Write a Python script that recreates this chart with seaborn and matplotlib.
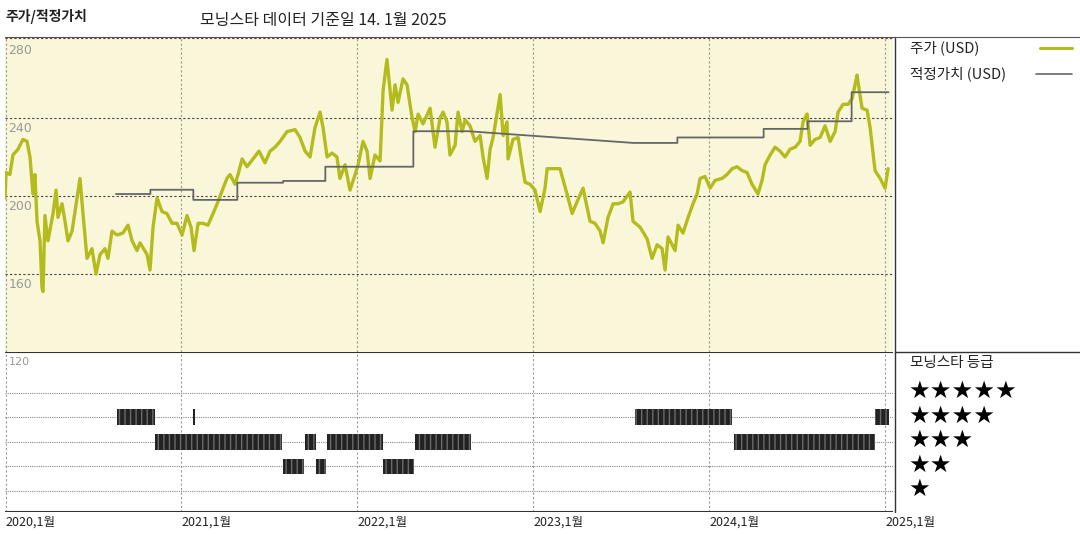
import matplotlib
matplotlib.use("Agg")
import matplotlib.pyplot as plt
import matplotlib.transforms as mtrans
import seaborn as sns
import pandas as pd

sns.set_style("white")
plt.rcParams['font.family'] = ['Noto Sans CJK KR', 'DejaVu Sans']

price_years = [0.0,0.006,0.028,0.045,0.074,0.102,0.125,0.142,0.159,0.170,0.182,0.199,0.210,0.216,0.227,0.244,0.273,0.290,0.301,0.324,0.341,0.358,0.381,0.409,0.426,0.443,0.466,0.494,0.517,0.540,0.568,0.585,0.608,0.636,0.670,0.699,0.722,0.750,0.767,0.807,0.824,0.841,0.864,0.892,0.920,0.949,0.977,1.006,1.034,1.057,1.074,1.097,1.125,1.153,1.182,1.210,1.239,1.261,1.278,1.307,1.324,1.347,1.375,1.409,1.443,1.477,1.506,1.534,1.563,1.602,1.648,1.676,1.705,1.733,1.761,1.790,1.807,1.830,1.858,1.886,1.903,1.932,1.960,1.989,2.006,2.034,2.057,2.074,2.102,2.131,2.148,2.170,2.188,2.199,2.216,2.233,2.261,2.284,2.313,2.330,2.347,2.375,2.415,2.443,2.472,2.489,2.511,2.528,2.557,2.574,2.597,2.614,2.642,2.670,2.699,2.716,2.739,2.756,2.773,2.795,2.813,2.830,2.852,2.858,2.886,2.915,2.938,2.955,2.983,3.011,3.040,3.068,3.080,3.114,3.153,3.193,3.222,3.250,3.284,3.324,3.352,3.381,3.398,3.426,3.455,3.483,3.511,3.551,3.568,3.608,3.648,3.676,3.705,3.733,3.750,3.767,3.807,3.824,3.852,3.881,3.909,3.932,3.949,3.977,4.006,4.034,4.074,4.102,4.131,4.159,4.188,4.216,4.244,4.278,4.301,4.318,4.347,4.375,4.403,4.432,4.460,4.489,4.517,4.534,4.557,4.574,4.602,4.631,4.659,4.688,4.716,4.733,4.761,4.790,4.813,4.841,4.847,4.869,4.898,4.915,4.943,4.972,5.000,5.017]
price_values = [199,212,211,221,224,229,228,220,201,211,187,177,153,151,190,177,191,203,189,196,187,177,182,199,209,191,168,173,160,170,173,168,182,180,181,185,177,172,176,170,162,184,199,192,191,186,186,180,190,184,172,186,186,185,191,197,204,209,211,206,211,219,215,219,223,217,223,225,228,233,234,230,223,220,235,243,235,220,222,220,209,216,203,211,216,228,223,209,221,218,254,270,254,244,257,248,260,257,240,233,242,237,245,225,240,243,238,221,226,243,233,239,236,228,231,220,209,224,230,242,252,231,238,219,229,230,216,207,206,203,192,204,214,214,214,201,191,197,204,187,186,182,176,189,196,196,197,202,187,184,178,168,175,173,162,179,172,185,181,189,196,201,209,210,204,208,209,211,214,215,213,212,206,201,208,216,221,225,223,220,224,225,228,238,242,226,229,230,236,228,233,243,247,247,250,262,258,245,244,235,213,209,204,214]

fair_years = [0.63,0.826,0.826,1.07,1.07,1.32,1.32,1.58,1.58,1.82,1.82,2.32,2.32,2.63,3.57,3.82,3.82,4.31,4.31,4.56,4.56,4.81,4.81,5.02]
fair_values = [201,201,203.2,203.2,198,198,206.8,206.8,207.7,207.7,215,215,233.2,233.2,227.2,227.2,230,230,234.4,234.4,238.3,238.3,253.2,253.2]

rating_stars = [4,4,4,4,3,3,3,3,3,2,2,2]
rating_start = [0.636,1.068,3.58,4.94,0.852,1.705,1.83,2.33,4.142,1.58,1.767,2.148]
rating_end = [0.852,1.080,4.13,5.02,1.574,1.767,2.148,2.648,4.943,1.70,1.824,2.324]

price_ticks = [160, 200, 240, 280]
year_labels = ["2020,1월", "2021,1월", "2022,1월", "2023,1월", "2024,1월", "2025,1월"]

W, H = 1080, 540
fig = plt.figure(figsize=(W/100, H/100), dpi=100)
L, R = 5/W, 893/W
ax = fig.add_axes([L, 1-352/H, R-L, (352-38)/H])
ax2 = fig.add_axes([L, 1-512/H, R-L, (512-352)/H])

ax.set_facecolor('#faf6da')
df_p = pd.DataFrame({'t': price_years, 'v': price_values})
df_f = pd.DataFrame({'t': fair_years, 'v': fair_values})
sns.lineplot(data=df_p, x='t', y='v', ax=ax, color='#b3bc1c', lw=2.4, estimator=None, sort=False)
sns.lineplot(data=df_f, x='t', y='v', ax=ax, color='#666666', lw=1.3, estimator=None, sort=False)
ax.set_xlim(0, 5.045)
ax.set_ylim(120, 281)
for a in (ax, ax2):
    a.set_xticks([])
    a.set_yticks([])
    a.set_xlabel('')
    a.set_ylabel('')
    for x in range(1, 6):
        a.axvline(x, color='#999999', lw=0.8, ls=(0, (2, 2)), zorder=0)
    a.axvline(0.005, color='#999999', lw=0.8, ls=(0, (2, 2)), zorder=0)
    for s in a.spines.values():
        s.set_visible(False)
for v in [160, 200, 240]:
    ax.axhline(v, color='#444444', lw=0.8, ls=(0, (2, 2)), zorder=0)
ax.axhline(281, color='#444444', lw=0.8, ls=(0, (2, 2)), zorder=0)
for v in price_ticks:
    ax.text(0.02, v - 2, str(v), color='#999999', fontsize=9, va='top', ha='left', family='DejaVu Sans')

ax2.set_xlim(0, 5.045)
ax2.set_ylim(0.143, 6.67)
for r in range(1, 6):
    ax2.axhline(r, color='#888888', lw=0.8, ls=(0, (1, 1)), zorder=0)
ax2.barh(rating_stars, [e - s for s, e in zip(rating_start, rating_end)], left=rating_start,
         height=0.65, color='#222222', edgecolor='#6a6a6a', hatch='|||', lw=0, zorder=2)
ax2.text(0.02, 6.45, '120', color='#999999', fontsize=8, va='top', ha='left', family='DejaVu Sans')
ax2.axhline(0.143, color='#333333', lw=1.5)
ax2.axhline(6.67, color='#333333', lw=0.8)

trans = mtrans.blended_transform_factory(ax2.transData, fig.transFigure)
for i, lab in enumerate(year_labels):
    ax2.text(i, 1-522/H, lab, transform=trans, fontsize=9, va='center', ha='left', color='#222222')

fig.add_artist(plt.Line2D([895/W, 895/W], [1-38/H, 1-512/H], color='#333333', lw=1))
fig.add_artist(plt.Line2D([5/W, 1], [1-37/H, 1-37/H], color='#555555', lw=0.8))
fig.add_artist(plt.Line2D([895/W, 1], [1-352/H, 1-352/H], color='#333333', lw=1))

fig.text(5/W, 1-17/H, '주가/적정가치', fontsize=10, fontweight='bold', va='center', ha='left', color='#222222')
fig.text(200/W, 1-20/H, '모닝스타 데이터 기준일 14. 1월 2025', fontsize=11.5, va='center', ha='left', color='#222222')
fig.text(910/W, 1-48/H, '주가 (USD)', fontsize=10.5, va='center', ha='left', color='#222222')
fig.add_artist(plt.Line2D([1040/W, 1072/W], [1-48/H, 1-48/H], color='#b3bc1c', lw=2.2))
fig.text(910/W, 1-74/H, '적정가치 (USD)', fontsize=10.5, va='center', ha='left', color='#222222')
fig.add_artist(plt.Line2D([1036/W, 1072/W], [1-74/H, 1-74/H], color='#666666', lw=1.2))
fig.text(910/W, 1-363/H, '모닝스타 등급', fontsize=10.5, va='center', ha='left', color='#222222')
for r in range(5, 0, -1):
    y = 1 - (391 + (5 - r) * 24.5) / H
    fig.text(908/W, y, '★' * r, fontsize=17.5, va='center', ha='left', color='#000000', family=['DejaVu Sans'])

fig.savefig('out.png', dpi=100)
